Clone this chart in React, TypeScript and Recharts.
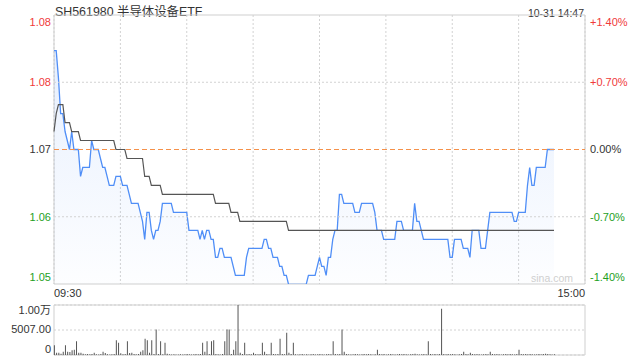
import {
  ComposedChart,
  Area,
  Line,
  XAxis,
  YAxis,
  CartesianGrid,
  ReferenceLine,
  ReferenceArea,
  BarChart,
  Bar,
} from "recharts";

const title = "SH561980 半导体设备ETF";
const stamp = "10-31 14:47";
const prevClose = 1.069;
const pctTicks = [-1.4, -0.7, 0, 0.7, 1.4];
const timeTicks = [0, 30, 60, 90, 120, 150, 180, 210, 240];
const timeLabels = ["09:30", "15:00"];

// one value per minute, 09:30 .. 14:46
const price = [
  1.080, 1.080, 1.077, 1.073, 1.073, 1.071, 1.070, 1.069, 1.071, 1.069,
  1.069, 1.069, 1.066, 1.067, 1.067, 1.067, 1.067, 1.070, 1.069, 1.069,
  1.069, 1.068, 1.067, 1.067, 1.066, 1.065, 1.065, 1.065, 1.066, 1.066,
  1.066, 1.065, 1.065, 1.065, 1.064, 1.063, 1.063, 1.063, 1.063, 1.062,
  1.061, 1.059, 1.062, 1.062, 1.060, 1.059, 1.060, 1.060, 1.061, 1.063,
  1.063, 1.063, 1.063, 1.063, 1.062, 1.062, 1.062, 1.062, 1.062, 1.062,
  1.062, 1.060, 1.060, 1.060, 1.060, 1.060, 1.059, 1.060, 1.059, 1.060,
  1.060, 1.059, 1.059, 1.057, 1.057, 1.058, 1.058, 1.057, 1.057, 1.057,
  1.057, 1.056, 1.055, 1.055, 1.055, 1.055, 1.055, 1.057, 1.058, 1.058,
  1.058, 1.058, 1.058, 1.058, 1.058, 1.059, 1.059, 1.058, 1.058, 1.057,
  1.057, 1.057, 1.056, 1.056, 1.055, 1.055, 1.054, 1.054, 1.054, 1.054,
  1.054, 1.054, 1.054, 1.054, 1.054, 1.055, 1.055, 1.055, 1.055, 1.056,
  1.057, 1.056, 1.056, 1.055, 1.057, 1.057, 1.059, 1.060, 1.060, 1.064,
  1.064, 1.063, 1.063, 1.063, 1.063, 1.063, 1.062, 1.062, 1.062, 1.063,
  1.063, 1.063, 1.063, 1.063, 1.063, 1.062, 1.060, 1.060, 1.060, 1.059,
  1.059, 1.059, 1.059, 1.059, 1.059, 1.061, 1.061, 1.061, 1.060, 1.060,
  1.060, 1.060, 1.060, 1.063, 1.061, 1.061, 1.060, 1.059, 1.059, 1.059,
  1.059, 1.059, 1.059, 1.059, 1.059, 1.059, 1.059, 1.059, 1.059, 1.057,
  1.057, 1.059, 1.059, 1.059, 1.059, 1.058, 1.058, 1.058, 1.057, 1.060,
  1.060, 1.060, 1.060, 1.058, 1.058, 1.058, 1.060, 1.062, 1.062, 1.062,
  1.062, 1.062, 1.062, 1.062, 1.062, 1.062, 1.062, 1.062, 1.061, 1.061,
  1.062, 1.062, 1.062, 1.062, 1.065, 1.067, 1.065, 1.065, 1.067, 1.067,
  1.067, 1.067, 1.067, 1.069, 1.069, 1.069, 1.069,
];

const avg = [
  1.071, 1.073, 1.074, 1.074, 1.074, 1.072, 1.072, 1.072, 1.071, 1.071,
  1.071, 1.071, 1.070, 1.070, 1.070, 1.070, 1.070, 1.070, 1.070, 1.070,
  1.070, 1.070, 1.070, 1.070, 1.070, 1.070, 1.070, 1.070, 1.069, 1.069,
  1.069, 1.069, 1.069, 1.068, 1.068, 1.068, 1.068, 1.068, 1.068, 1.068,
  1.068, 1.066, 1.066, 1.066, 1.065, 1.065, 1.065, 1.065, 1.065, 1.064,
  1.064, 1.064, 1.064, 1.064, 1.064, 1.064, 1.064, 1.064, 1.064, 1.064,
  1.064, 1.064, 1.064, 1.064, 1.064, 1.064, 1.064, 1.064, 1.064, 1.064,
  1.064, 1.064, 1.064, 1.063, 1.063, 1.063, 1.063, 1.063, 1.063, 1.063,
  1.062, 1.062, 1.062, 1.062, 1.061, 1.061, 1.061, 1.061, 1.061, 1.061,
  1.061, 1.061, 1.061, 1.061, 1.061, 1.061, 1.061, 1.061, 1.061, 1.061,
  1.061, 1.061, 1.061, 1.061, 1.061, 1.061, 1.060, 1.060, 1.060, 1.060,
  1.060, 1.060, 1.060, 1.060, 1.060, 1.060, 1.060, 1.060, 1.060, 1.060,
  1.060, 1.060, 1.060, 1.060, 1.060, 1.060, 1.060, 1.060, 1.060, 1.060,
  1.060, 1.060, 1.060, 1.060, 1.060, 1.060, 1.060, 1.060, 1.060, 1.060,
  1.060, 1.060, 1.060, 1.060, 1.060, 1.060, 1.060, 1.060, 1.060, 1.060,
  1.060, 1.060, 1.060, 1.060, 1.060, 1.060, 1.060, 1.060, 1.060, 1.060,
  1.060, 1.060, 1.060, 1.060, 1.060, 1.060, 1.060, 1.060, 1.060, 1.060,
  1.060, 1.060, 1.060, 1.060, 1.060, 1.060, 1.060, 1.060, 1.060, 1.060,
  1.060, 1.060, 1.060, 1.060, 1.060, 1.060, 1.060, 1.060, 1.060, 1.060,
  1.060, 1.060, 1.060, 1.060, 1.060, 1.060, 1.060, 1.060, 1.060, 1.060,
  1.060, 1.060, 1.060, 1.060, 1.060, 1.060, 1.060, 1.060, 1.060, 1.060,
  1.060, 1.060, 1.060, 1.060, 1.060, 1.060, 1.060, 1.060, 1.060, 1.060,
  1.060, 1.060, 1.060, 1.060, 1.060, 1.060, 1.060,
];

const volume = [
  1930, 470, 470, 270, 670, 1930, 670, 600, 930, 1070,
  2730, 470, 470, 270, 150, 200, 150, 200, 470, 150,
  100, 200, 670, 400, 150, 100, 150, 200, 2930, 2470,
  330, 150, 200, 2730, 400, 470, 200, 150, 200, 670,
  930, 3270, 2930, 470, 2930, 200, 5130, 200, 2730, 150,
  2470, 270, 150, 100, 150, 100, 100, 150, 100, 150,
  200, 150, 100, 150, 200, 150, 200, 2470, 670, 2730,
  200, 2730, 2930, 200, 150, 100, 200, 2730, 5130, 5130,
  200, 1070, 2730, 10014, 470, 200, 2470, 150, 200, 150,
  470, 200, 150, 200, 2470, 670, 200, 150, 2470, 200,
  150, 200, 3270, 200, 150, 4470, 470, 200, 2470, 150,
  100, 150, 200, 100, 150, 100, 150, 200, 100, 150,
  200, 150, 100, 150, 200, 150, 2730, 200, 150, 200,
  5130, 670, 200, 150, 100, 150, 200, 150, 100, 150,
  200, 150, 200, 150, 100, 150, 1070, 200, 150, 200,
  100, 150, 200, 150, 100, 150, 200, 150, 200, 150,
  100, 150, 200, 250, 150, 100, 150, 200, 150, 2730,
  200, 150, 200, 150, 200, 9270, 200, 150, 200, 150,
  200, 150, 100, 150, 200, 670, 200, 150, 470, 200,
  150, 200, 150, 100, 150, 200, 150, 670, 200, 150,
  200, 150, 100, 150, 200, 150, 200, 150, 100, 200,
  1070, 200, 150, 200, 150, 200, 150, 100, 150, 200,
  150, 200, 250, 200, 150, 100, 150,
];

const volTicks = [0, 5007, 10014];
const volLabels = ["0", "5007.00", "1.00万"];

const RED = "#f03a3a";
const GREEN = "#1ea01e";
const DARK = "#333";
const GRID = "#d2d2d2";
const ORANGE = "#f5914a";
const FONT = "'Liberation Sans', Arial, 'Noto Sans CJK SC', sans-serif";

const yTicks = pctTicks.map((p) => prevClose * (1 + p / 100));
const yMin = yTicks[0];
const yMax = yTicks[yTicks.length - 1];
const innerTicks = yTicks.slice(1, -1).filter((v) => Math.abs(v - prevClose) > 1e-9);

const rows = price.map((p, i) => ({ i, price: p, avg: avg[i] }));
const volRows = volume.map((v, i) => ({ i, vol: v }));

function colorFor(pct: number) {
  if (pct > 0.001) return RED;
  if (pct < -0.001) return GREEN;
  return DARK;
}

function edgeShift(pct: number) {
  if (pct > 1.39) return 7;
  if (pct < -1.39) return -7;
  return 0;
}

function PriceTick(props: any) {
  const v = props.payload.value;
  const pct = (v / prevClose - 1) * 100;
  return (
    <text
      x={props.x}
      y={props.y + edgeShift(pct)}
      dy="0.35em"
      textAnchor="end"
      fill={colorFor(pct)}
      fontSize={11}
      fontFamily={FONT}
    >
      {v.toFixed(2)}
    </text>
  );
}

function PctTick(props: any) {
  const v = props.payload.value;
  const pct = (v / prevClose - 1) * 100;
  const sign = pct > 0.001 ? "+" : "";
  return (
    <text
      x={props.x}
      y={props.y + edgeShift(pct)}
      dy="0.35em"
      textAnchor="start"
      fill={colorFor(pct)}
      fontSize={11}
      fontFamily={FONT}
    >
      {sign + pct.toFixed(2) + "%"}
    </text>
  );
}

function TimeTick(props: any) {
  const v = props.payload.value;
  if (v !== 0 && v !== 240) return <g />;
  return (
    <text
      x={props.x}
      y={297}
      textAnchor={v === 0 ? "start" : "end"}
      fill={DARK}
      fontSize={11}
      fontFamily={FONT}
    >
      {v === 0 ? timeLabels[0] : timeLabels[1]}
    </text>
  );
}

function VolTick(props: any) {
  const v = props.payload.value;
  const k = volTicks.indexOf(v);
  const shift = k === 0 ? -6 : k === volTicks.length - 1 ? 5 : -1;
  return (
    <text
      x={props.x}
      y={props.y + shift}
      dy="0.35em"
      textAnchor="end"
      fill={DARK}
      fontSize={11}
      fontFamily={FONT}
    >
      {volLabels[k]}
    </text>
  );
}

// previous close line, drawn in orange dashes
function CloseLine(props: any) {
  return (
    <line
      x1={props.x1}
      y1={props.y1}
      x2={props.x2}
      y2={props.y2}
      stroke={ORANGE}
      strokeWidth={1}
      strokeDasharray="5 3"
    />
  );
}

export default function App() {
  return (
    <div
      style={{
        position: "absolute",
        left: 0,
        top: 0,
        width: 640,
        height: 360,
        background: "#fff",
        fontFamily: FONT,
      }}
    >
      <div
        style={{
          position: "absolute",
          left: 55,
          top: 4,
          fontSize: 12.4,
          color: DARK,
          lineHeight: "16px",
          whiteSpace: "nowrap",
        }}
      >
        {title}
      </div>
      <div
        style={{
          position: "absolute",
          right: 56,
          top: 6,
          fontSize: 10.5,
          color: DARK,
          lineHeight: "14px",
        }}
      >
        {stamp}
      </div>
      <div style={{ position: "absolute", left: 0, top: 0 }}>
        <ComposedChart
          width={640}
          height={300}
          data={rows}
          margin={{ top: 15, right: 0, bottom: 0, left: 0 }}
        >
          <defs>
            <linearGradient id="priceFill" x1="0" y1="0" x2="0" y2="1">
              <stop offset="0%" stopColor="#4f8ef7" stopOpacity={0.22} />
              <stop offset="100%" stopColor="#4f8ef7" stopOpacity={0.02} />
            </linearGradient>
          </defs>
          <CartesianGrid stroke={GRID} strokeDasharray="2 2" horizontal={false} />
          <XAxis
            type="number"
            dataKey="i"
            domain={[0, 240]}
            ticks={timeTicks}
            interval={0}
            tick={TimeTick}
            tickLine={false}
            axisLine={false}
            height={16}
          />
          <YAxis
            type="number"
            domain={[yMin, yMax]}
            ticks={yTicks}
            interval={0}
            allowDataOverflow
            width={54}
            tick={PriceTick}
            tickLine={false}
            axisLine={false}
            tickSize={0}
            tickMargin={3}
          />
          <YAxis
            yAxisId="right"
            orientation="right"
            type="number"
            domain={[yMin, yMax]}
            ticks={yTicks}
            interval={0}
            allowDataOverflow
            width={55}
            tick={PctTick}
            tickLine={false}
            axisLine={false}
            tickSize={0}
            tickMargin={5}
          />
          {innerTicks.map((v) => (
            <ReferenceLine key={v} y={v} stroke={GRID} strokeDasharray="2 2" />
          ))}
          <ReferenceArea
            x1={0}
            x2={240}
            y1={yMin}
            y2={yMax}
            fill="none"
            stroke="#cfcfcf"
            strokeWidth={1}
          />
          <Area
            type="linear"
            dataKey="price"
            stroke="#4f8ef7"
            strokeWidth={1.3}
            fill="url(#priceFill)"
            dot={false}
            activeDot={false}
            isAnimationActive={false}
          />
          <ReferenceLine y={prevClose} stroke={ORANGE} shape={CloseLine} />
          <Line
            type="linear"
            dataKey="avg"
            stroke="#555"
            strokeWidth={1.2}
            dot={false}
            activeDot={false}
            isAnimationActive={false}
          />
        </ComposedChart>
      </div>
      <div
        style={{
          position: "absolute",
          left: 531,
          top: 272,
          fontSize: 10.5,
          color: "#cfcfcf",
        }}
      >
        sina.com
      </div>
      <div style={{ position: "absolute", left: 0, top: 300 }}>
        <BarChart
          width={640}
          height={60}
          data={volRows}
          margin={{ top: 5, right: 55, bottom: 5, left: 0 }}
          barSize={1}
        >
          <CartesianGrid stroke={GRID} strokeDasharray="2 2" vertical={false} />
          <XAxis type="number" dataKey="i" domain={[0, 240]} hide />
          <YAxis
            type="number"
            domain={[0, 10014]}
            ticks={volTicks}
            interval={0}
            width={54}
            tick={VolTick}
            tickLine={false}
            axisLine={false}
            tickSize={0}
            tickMargin={3}
          />
          <ReferenceArea
            x1={0}
            x2={240}
            y1={0}
            y2={10014}
            fill="none"
            stroke="#cfcfcf"
            strokeWidth={1}
          />
          <Bar dataKey="vol" fill="#555" isAnimationActive={false} />
        </BarChart>
      </div>
    </div>
  );
}
